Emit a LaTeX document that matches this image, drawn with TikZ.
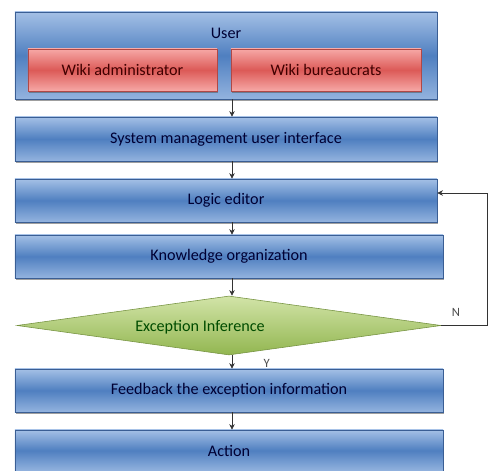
\documentclass[tikz,border=0pt]{standalone}
\usepackage{fontspec}
\setmainfont{Carlito}
\usepackage{tikz}
\usetikzlibrary{shapes.geometric,shadows,arrows.meta}
\definecolor{boxlight}{HTML}{A4C0E6}
\definecolor{boxdark}{HTML}{4F7FC0}
\definecolor{boxline}{HTML}{3A5E94}
\definecolor{redlight}{HTML}{F6A8A6}
\definecolor{reddark}{HTML}{DC5A57}
\definecolor{greenlight}{HTML}{D2E4A8}
\definecolor{greendark}{HTML}{92B650}
\tikzset{
	bluebox/.style={rectangle,draw=boxline,thin,top color=boxlight,bottom color=boxlight!80!boxdark,middle color=boxdark,drop shadow={shadow xshift=0.4pt,shadow yshift=-1.2pt,fill=black!75},inner sep=0pt,font=\fontsize{11.5}{13}\selectfont,text=black!80!blue},
	redbox/.style={rectangle,draw=reddark!80!black,thin,top color=redlight,bottom color=redlight,middle color=reddark,drop shadow={shadow xshift=0.4pt,shadow yshift=-1.2pt,fill=black!70},inner sep=0pt,font=\fontsize{11.5}{13}\selectfont,text=black!75!red},
	flow/.style={-{Stealth[length=4pt,width=4pt]},black!80,thin}
}
\begin{document}
\begin{tikzpicture}[x=0.025cm,y=-0.025cm]
	\useasboundingbox (0,0) rectangle (488,471);
	% boxes
	\node[bluebox,minimum width=10.55cm,minimum height=2.175cm] (user) at (226,55.5) {};
	\node[text=black!80!blue,font=\fontsize{11.5}{13}\selectfont] (usertxt) at (226,33) {User};
	\node[redbox,minimum width=4.725cm,minimum height=1.05cm] (admin) at (122.5,70) {Wiki administrator};
	\node[redbox,minimum width=4.75cm,minimum height=1.05cm] (bureau) at (326,70) {Wiki bureaucrats};
	\node[bluebox,minimum width=10.55cm,minimum height=1.1cm] (sysui) at (226,139) {System management user interface};
	\node[bluebox,minimum width=10.55cm,minimum height=1.075cm] (logic) at (226,200.5) {Logic editor};
	\node[bluebox,minimum width=10.7cm,minimum height=1.075cm] (know) at (229,256.5) {Knowledge organization};
	\node[diamond,draw=greendark!80!black,thin,top color=greenlight,bottom color=greendark,inner sep=0pt,minimum width=10.6cm,minimum height=1.475cm] (except) at (229,325.5) {};
	\node[text=black!70!green,font=\fontsize{11.5}{13}\selectfont] (excepttxt) at (200,327) {Exception Inference};
	\node[bluebox,minimum width=10.7cm,minimum height=1.075cm] (feedback) at (229,390.5) {Feedback the exception information};
	\node[bluebox,minimum width=10.7cm,minimum height=1.025cm] (action) at (229,450.5) {Action};
	% arrows
	\draw[flow] (user.south -| 232,0) -- (sysui.north -| 232,0);
	\draw[flow] (sysui.south -| 232,0) -- (logic.north -| 232,0);
	\draw[flow] (logic.south -| 232,0) -- (know.north -| 232,0);
	\draw[flow] (know.south -| 232,0) -- (except.north -| 232,0);
	\draw[flow] (except.south -| 232,0) -- (feedback.north -| 232,0) node[pos=0.6,right=19pt,font=\fontsize{9}{11}\selectfont,text=black!70] {Y};
	\draw[flow] (feedback.south -| 232,0) -- (action.north -| 232,0);
	\coordinate (back) at (487,193);
	\draw[flow] (except.east) -| (back) -- (logic.east |- back);
	\node[font=\fontsize{9}{11}\selectfont,text=black!70] (no) at (456,312) {N};
\end{tikzpicture}
\end{document}
